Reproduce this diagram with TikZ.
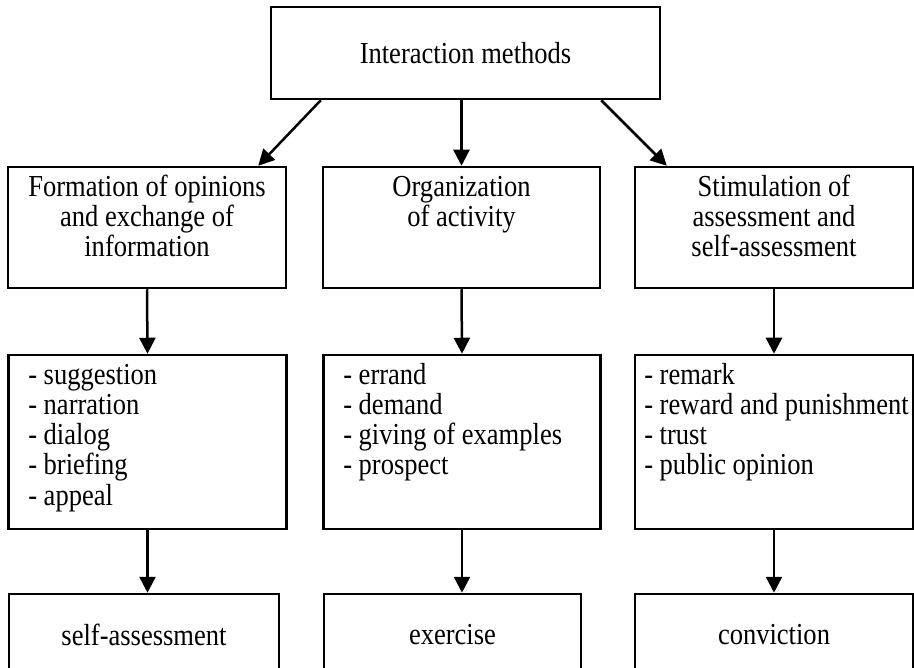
\documentclass[tikz,border=0pt]{standalone}
\usepackage{fontspec}
\setmainfont{Liberation Serif}[FakeStretch=0.87]
\usetikzlibrary{arrows.meta}
\begin{document}
\begin{tikzpicture}[x=1pt, y=-1pt, line width=2.5pt,
    >={Triangle[length=16pt,width=16pt]},
    box/.style={draw, inner sep=0pt},
    txt/.style={font=\fontsize{30.5}{30}\selectfont, inner sep=0pt}]
    \useasboundingbox (0,0) rectangle (914,668);
    \clip (0,0) rectangle (914,668);
    % top
    \node[box, txt, minimum width=389pt, minimum height=92pt] (top) at (465.5,53) {Interaction methods};
    % second row
    \node[box, minimum width=278pt, minimum height=121pt] (opin) at (147,227.5) {};
    \node[box, minimum width=277pt, minimum height=121pt] (act) at (461.5,227.5) {};
    \node[box, minimum width=278pt, minimum height=121pt] (stim) at (774,227.5) {};
\foreach \l [count=\i] in {Formation of opinions, and exchange of, information}
{
    \node[txt, anchor=base] (t-opin-\i) at (147,167+30*\i) {\l};
}
\foreach \l [count=\i] in {Organization, of activity}
{
    \node[txt, anchor=base] (t-act-\i) at (461.5,167+30*\i) {\l};
}
\foreach \l [count=\i] in {Stimulation of, assessment and, self-assessment}
{
    \node[txt, anchor=base] (t-stim-\i) at (774,167+30*\i) {\l};
}
    % third row
    \node[box, minimum width=278pt, minimum height=174pt] (opinlist) at (147.5,442) {};
    \node[box, minimum width=277pt, minimum height=174pt] (actlist) at (462,442) {};
    \node[box, minimum width=278pt, minimum height=174pt] (stimlist) at (774,442) {};
\foreach \l [count=\i] in {suggestion, narration, dialog, briefing, appeal}
{
    \node[txt, anchor=base west] (l-opin-\i) at (27,355+30*\i) {- \l};
}
\foreach \l [count=\i] in {errand, demand, giving of examples, prospect}
{
    \node[txt, anchor=base west] (l-act-\i) at (342,355+30*\i) {- \l};
}
\foreach \l [count=\i] in {remark, reward and punishment, trust, public opinion}
{
    \node[txt, anchor=base west] (l-stim-\i) at (643,355+30*\i) {- \l};
}
    % bottom row
    \node[box, txt, minimum width=270pt, minimum height=82pt] (self) at (144,635) {self-assessment};
    \node[box, txt, minimum width=257pt, minimum height=82pt] (exer) at (452.5,635) {exercise};
    \node[box, txt, minimum width=278pt, minimum height=82pt] (conv) at (774,635) {conviction};
    % arrows
    \draw[->] ([xshift=51pt]top.south west) -- ([xshift=-29pt]opin.north east);
    \draw[->] (top.south -| act.north) -- (act.north);
    \draw[->] ([xshift=-60pt]top.south east) -- ([xshift=33pt]stim.north west);
\foreach \a/\b in {opin/opinlist, act/actlist, stim/stimlist}
{
    \draw[->] (\a.south) -- (\b.north);
}
\foreach \a/\b in {opinlist/self, actlist/exer, stimlist/conv}
{
    \draw[->] (\a.south) -- (\a.south |- \b.north);
}
\end{tikzpicture}
\end{document}
